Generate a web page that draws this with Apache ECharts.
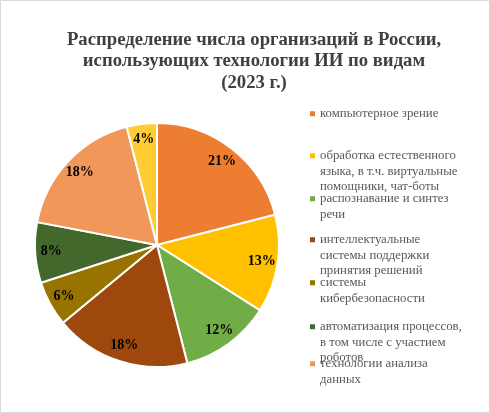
<!DOCTYPE html>
<html>
<head>
<meta charset="utf-8">
<script src="https://cdn.jsdelivr.net/npm/echarts@6/dist/echarts.min.js"></script>
<style>
html, body { margin: 0; padding: 0; background: #fff; }
#main { width: 490px; height: 413px; }
</style>
</head>
<body>
<div id="main"></div>
<script>
// categories (legend text keeps the line breaks of the original)
var categories = [
	'компьютерное зрение',
	'обработка естественного\nязыка, в т.ч. виртуальные\nпомощники, чат-боты',
	'распознавание и синтез\nречи',
	'интеллектуальные\nсистемы поддержки\nпринятия решений',
	'системы\nкибербезопасности',
	'автоматизация процессов,\nв том числе с участием\nроботов',
	'технологии анализа\nданных',
	'другое'
];
// share of organisations, %
var shares = [21, 13, 12, 18, 6, 8, 18, 4];
var legendCount = 7;

var chart = echarts.init(document.getElementById('main'));

var LH = 15.5;
var legendTops = [106, 148, 191, 232, 275, 319, 356];

var pieData = categories.map(function (name, i) {
	return { name: name, value: shares[i] };
});

var legends = [];
for (var i = 0; i < legendCount; i++) {
	var lines = categories[i].split('\n').length;
	var h = lines * LH;
	var sq = (LH - 5) / 2;
	legends.push({
		data: [categories[i]],
		orient: 'vertical',
		left: 310,
		top: legendTops[i],
		padding: 0,
		itemWidth: 5,
		itemHeight: h,
		itemGap: 0,
		icon: 'path://M0,0h0.01M0,' + h + 'h0.01M0,' + sq + 'h5v5h-5z',
		itemStyle: { borderWidth: 0 },
		selectedMode: false,
		textStyle: {
			fontFamily: '"Times New Roman", "Liberation Serif", serif',
			fontSize: 12.8,
			lineHeight: LH,
			color: '#595959'
		}
	});
}

var option = {
	backgroundColor: '#fff',
	animation: false,
	color: ['#ED7D31', '#FFC000', '#70AD47', '#9E480E', '#997300', '#43682B', '#F1975A', '#FFCD33'],
	title: {
		text: 'Распределение числа организаций в России,\nиспользующих технологии ИИ по видам\n(2023 г.)',
		left: 254,
		top: 29,
		padding: 0,
		textAlign: 'center',
		textStyle: {
			fontFamily: '"Times New Roman", "Liberation Serif", serif',
			fontSize: 18.7,
			fontWeight: 'bold',
			lineHeight: 21.5,
			color: '#404040'
		}
	},
	legend: legends,
	graphic: [{
		type: 'rect',
		shape: { x: 0.5, y: 0.5, width: 489, height: 412 },
		style: { fill: 'none', stroke: '#d9d9d9', lineWidth: 1 },
		silent: true
	}],
	series: [
		{
			type: 'pie',
			center: [157, 245],
			radius: 122,
			startAngle: 90,
			clockwise: true,
			avoidLabelOverlap: false,
			label: { show: false },
			labelLine: { show: false },
			itemStyle: { borderColor: '#fff', borderWidth: 2 },
			data: pieData
		},
		{
			// transparent ring that only carries the value labels
			type: 'pie',
			center: [157, 245],
			radius: [84, 122],
			startAngle: 90,
			clockwise: true,
			silent: true,
			avoidLabelOverlap: false,
			itemStyle: { color: 'rgba(0,0,0,0)', borderWidth: 0 },
			labelLine: { show: false },
			label: {
				show: true,
				position: 'inside',
				formatter: '{c}%',
				fontFamily: '"Times New Roman", "Liberation Serif", serif',
				fontSize: 14,
				fontWeight: 'bold',
				color: '#000'
			},
			data: pieData
		}
	]
};
chart.setOption(option);
</script>
</body>
</html>
